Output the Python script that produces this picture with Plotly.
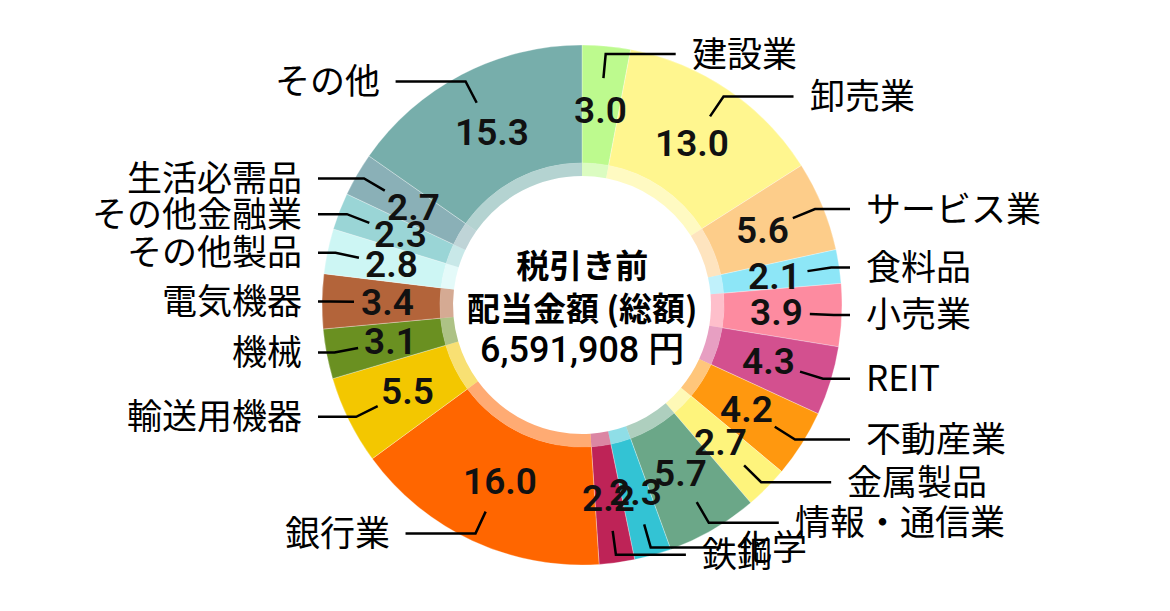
import math
import plotly.graph_objects as go

categories = ["建設業", "卸売業", "サービス業", "食料品", "小売業", "REIT", "不動産業",
              "金属製品", "情報・通信業", "化学", "鉄鋼", "銀行業", "輸送用機器", "機械",
              "電気機器", "その他製品", "その他金融業", "生活必需品", "その他"]
values = [3.0, 13.0, 5.6, 2.1, 3.9, 4.3, 4.2, 2.7, 5.7, 2.3, 2.2, 16.0, 5.5, 3.1,
          3.4, 2.8, 2.3, 2.7, 15.3]
colors = ["#bdfa8e", "#fff68f", "#fdcd8a", "#8de6f7", "#fd8ba0", "#d3508f", "#ff980f",
          "#fef47c", "#6ba788", "#33c3d4", "#be2357", "#ff6600", "#f3c700", "#6a9021",
          "#b3643a", "#cdf6f4", "#9ad5d6", "#8ab0b7", "#77aeab"]
center_title = ["税引き前", "配当金額 (総額)"]
total_amount = "6,591,908 円"

W, H = 1170, 611
OFF = 8  # page body margin
CX, CY = 582, 305
R_OUT, R_MID, R_IN = 260, 142, 129


def rgba(hexc, a):
    h = hexc.lstrip("#")
    return "rgba(%d,%d,%d,%.2f)" % (int(h[0:2], 16), int(h[2:4], 16), int(h[4:6], 16), a)


def paper(x, y):
    return (x - OFF) / W, 1 - (y - OFF) / H


def dom(r):
    cxp, cyp = paper(CX, CY)
    return dict(x=[cxp - r / W, cxp + r / W], y=[cyp - r / H, cyp + r / H])


fig = go.Figure()
fig.add_trace(go.Pie(labels=categories, values=values, sort=False, direction="clockwise",
                     rotation=0, hole=R_MID / R_OUT, domain=dom(R_OUT), textinfo="none",
                     marker=dict(colors=colors, line=dict(color="rgba(255,255,255,0.5)", width=0.6)),
                     hoverinfo="label+value", showlegend=False))
fig.add_trace(go.Pie(labels=categories, values=values, sort=False, direction="clockwise",
                     rotation=0, hole=R_IN / R_MID, domain=dom(R_MID), textinfo="none",
                     marker=dict(colors=[rgba(c, 0.55) for c in colors], line=dict(width=0)),
                     hoverinfo="skip", showlegend=False))

total = sum(values)
annotations = []
shapes = []
cum = 0.0
for name, v in zip(categories, values):
    mid = (cum + v / 2) / total * 2 * math.pi
    cum += v
    s, c = math.sin(mid), math.cos(mid)
    # value label
    vx, vy = CX + 195 * s, CY - 195 * c
    px_, py_ = paper(vx, vy)
    annotations.append(dict(x=px_, y=py_, xref="paper", yref="paper", text=f"{v:.1f}",
                            showarrow=False, xanchor="center", yanchor="middle",
                            font=dict(family="Roboto", size=37, color="#111",
                                      weight=600)))
    # leader line
    x0, y0 = CX + 228 * s, CY - 228 * c
    x1, y1 = CX + 252 * s, CY - 252 * c
    right = s >= 0
    if right:
        x2 = min(x1 + 70, CX + 268)
    else:
        x2 = max(x1 - 70, CX - 264)
    p0, p1, p2 = paper(x0, y0), paper(x1, y1), paper(x2, y1)
    shapes.append(dict(type="path", xref="paper", yref="paper",
                       path=f"M {p0[0]},{p0[1]} L {p1[0]},{p1[1]} L {p2[0]},{p2[1]}",
                       line=dict(color="#000", width=2.5)))
    tx = x2 + 14 if right else x2 - 14
    tp = paper(tx, y1 - 3)
    annotations.append(dict(x=tp[0], y=tp[1], xref="paper", yref="paper", text=name,
                            showarrow=False, xanchor="left" if right else "right",
                            yanchor="middle",
                            font=dict(family="Noto Sans CJK JP", size=35, color="#000")))

t1 = paper(CX, CY - 20)
annotations.append(dict(x=t1[0], y=t1[1], xref="paper", yref="paper",
                        text=f"<b>{center_title[0]}</b><br><b>{center_title[1]}</b>",
                        showarrow=False, xanchor="center", yanchor="middle",
                        font=dict(family="Noto Sans CJK JP", size=33, color="#000")))
t2 = paper(CX, CY + 45)
annotations.append(dict(x=t2[0], y=t2[1], xref="paper", yref="paper",
                        text=total_amount, showarrow=False, xanchor="center", yanchor="middle",
                        font=dict(family="Roboto, Noto Sans CJK JP", size=36, color="#000",
                                  weight=500)))

fig.update_layout(width=W, height=H, margin=dict(l=0, r=0, t=0, b=0),
                  paper_bgcolor="white", plot_bgcolor="white",
                  annotations=annotations, shapes=shapes)
fig.write_html("out.html")
